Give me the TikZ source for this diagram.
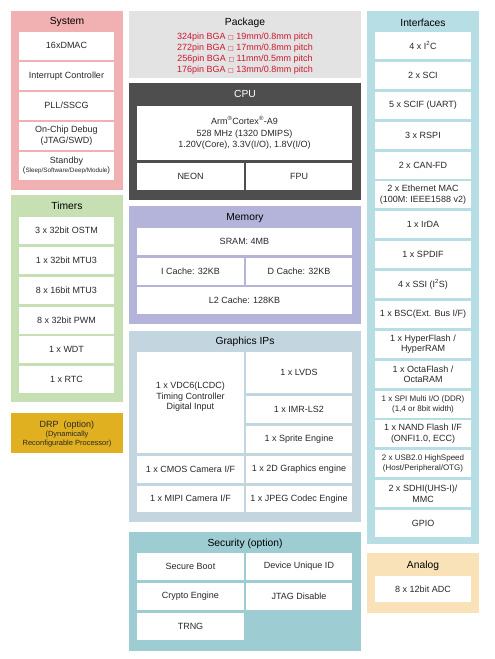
\documentclass[tikz,border=0pt]{standalone}
\usepackage{fontspec}
\setmainfont{Liberation Sans}
\newfontfamily\symfont{DejaVu Sans}
\definecolor{txt}{RGB}{40,40,40}
\definecolor{sysc}{RGB}{241,176,178}
\definecolor{timc}{RGB}{198,224,180}
\definecolor{drpc}{RGB}{224,176,32}
\definecolor{pkgc}{RGB}{227,227,227}
\definecolor{cpuc}{RGB}{78,78,78}
\definecolor{memc}{RGB}{180,180,218}
\definecolor{gfxc}{RGB}{195,213,223}
\definecolor{secc}{RGB}{157,204,211}
\definecolor{ifc}{RGB}{183,221,229}
\definecolor{anac}{RGB}{249,226,184}
\definecolor{redt}{RGB}{204,24,48}
\newcommand{\bodyf}{\fontsize{9}{10.5}\selectfont}
\newcommand{\titlef}{\fontsize{10.3}{12}\selectfont}
\newcommand{\mysmallf}{\fontsize{8}{9.5}\selectfont}
\newcommand{\sqbox}{{\symfont\fontsize{6}{6}\selectfont □}}
% style, name, x1, y1, x2, y2, text
\newcommand{\mkblk}[7]{%
  \node[#1, minimum width={(#5-#3)*1pt}, minimum height={(#6-#4)*1pt}] (#2) at ({(#3+#5)/2},{(#4+#6)/2}) {#7};}
\begin{document}
\begin{tikzpicture}[x=1pt,y=-1pt,
  panel/.style={fill=#1, draw=none, inner sep=0pt, outer sep=0pt},
  box/.style={fill=white, draw=none, inner sep=0pt, outer sep=0pt, align=center, text=txt, font=\bodyf},
  ttl/.style={inner sep=0pt, font=\titlef, text=black},
  lbl/.style={inner sep=0pt, align=center, text=txt, font=\bodyf}]
\useasboundingbox (0,0) rectangle (495,659);
\fill[white] (0,0) rectangle (495,659);

% ---------- panels ----------
\mkblk{panel=sysc}{system}{11}{11}{123}{190}{}
\mkblk{panel=timc}{timers}{11}{195}{123}{402}{}
\mkblk{panel=drpc}{drp}{11}{413}{123}{453}{}
\mkblk{panel=pkgc}{package}{129}{11}{361}{78}{}
\mkblk{panel=cpuc}{cpu}{129}{83}{361}{200}{}
\mkblk{panel=memc}{memory}{129}{206}{361}{324}{}
\mkblk{panel=gfxc}{graphics}{129}{331}{361}{522}{}
\mkblk{panel=secc}{security}{129}{532}{361}{651}{}
\mkblk{panel=ifc}{interfaces}{367}{11}{479}{544}{}
\mkblk{panel=anac}{analog}{367}{553}{479}{613}{}

% ---------- titles ----------
\node[ttl] (systemT) at (67,22) {System};
\node[ttl] (timersT) at (67,206) {Timers};
\node[ttl] (packageT) at (245,23) {Package};
\node[ttl, text=white] (cpuT) at (245,94) {CPU};
\node[ttl] (memoryT) at (245,218) {Memory};
\node[ttl] (graphicsT) at (245,342) {Graphics IPs};
\node[ttl] (securityT) at (245,544) {Security (option)};
\node[ttl] (interfacesT) at (423,23) {Interfaces};
\node[ttl] (analogT) at (423,566) {Analog};

% ---------- System ----------
\mkblk{box}{s1}{19}{32}{114}{59.5}{16xDMAC}
\mkblk{box}{s2}{19}{62}{114}{89.5}{Interrupt Controller}
\mkblk{box}{s3}{19}{92}{114}{119.5}{PLL/SSCG}
\mkblk{box}{s4}{19}{122}{114}{149.5}{On-Chip Debug\\(JTAG/SWD)}
\mkblk{box}{s5}{19}{152}{114}{179.5}{Standby\\[-1pt]{\mysmallf(}{\fontsize{6.3}{7}\selectfont Sleep/Software/Deep/Module}{\mysmallf)}}

% ---------- Timers ----------
\mkblk{box}{t1}{19}{217}{114}{244}{3 x 32bit OSTM}
\mkblk{box}{t2}{19}{247}{114}{274}{1 x 32bit MTU3}
\mkblk{box}{t3}{19}{276.5}{114}{303.5}{8 x 16bit MTU3}
\mkblk{box}{t4}{19}{306.5}{114}{333.5}{8 x 32bit PWM}
\mkblk{box}{t5}{19}{336}{114}{363}{1 x WDT}
\mkblk{box}{t6}{19}{366}{114}{393}{1 x RTC}

% ---------- DRP ----------
\node[lbl] (drp1) at (67,425) {DRP\ \ (option)};
\node[lbl, font=\fontsize{7.5}{9}\selectfont] (drp2) at (67,434.5) {(Dynamically};
\node[lbl, font=\fontsize{7.5}{9}\selectfont] (drp3) at (67,443.5) {Reconfigurable Processor)};

% ---------- Package ----------
\node[lbl, text=redt] (p1) at (245,37) {324pin BGA \sqbox\ 19mm/0.8mm pitch};
\node[lbl, text=redt] (p2) at (245,48) {272pin BGA \sqbox\ 17mm/0.8mm pitch};
\node[lbl, text=redt] (p3) at (245,59) {256pin BGA \sqbox\ 11mm/0.5mm pitch};
\node[lbl, text=redt] (p4) at (245,70) {176pin BGA \sqbox\ 13mm/0.8mm pitch};

% ---------- CPU ----------
\mkblk{box, font=\fontsize{9}{11.5}\selectfont}{core}{137}{106}{352}{160}{Arm\textsuperscript{\textregistered}Cortex\textsuperscript{\textregistered}-A9\\528 MHz (1320 DMIPS)\\1.20V(Core), 3.3V(I/O), 1.8V(I/O)}
\mkblk{box}{neon}{137}{163}{244}{190}{NEON}
\mkblk{box}{fpu}{246}{163}{352}{190}{FPU}

% ---------- Memory ----------
\mkblk{box}{sram}{137}{228}{352}{255}{SRAM: 4MB}
\mkblk{box}{icache}{137}{257.5}{244}{284.5}{I Cache: 32KB}
\mkblk{box}{dcache}{246}{257.5}{352}{284.5}{D Cache: 32KB}
\mkblk{box}{l2}{137}{287}{352}{314}{L2 Cache: 128KB}

% ---------- Graphics ----------
\mkblk{box}{vdc}{137}{352}{244}{453}{}
\node[lbl] (vdcT) at (190.5,397) {1 x VDC6(LCDC)\\Timing Controller\\Digital Input};
\mkblk{box}{lvds}{246}{352}{352}{393}{1 x LVDS}
\mkblk{box}{imr}{246}{396}{352}{423}{1 x IMR-LS2}
\mkblk{box}{sprite}{246}{426}{352}{453}{1 x Sprite Engine}
\mkblk{box}{cmos}{137}{456}{244}{482.5}{1 x CMOS Camera I/F}
\mkblk{box}{g2d}{246}{456}{352}{482.5}{1 x 2D Graphics engine}
\mkblk{box}{mipi}{137}{485.5}{244}{512}{1 x MIPI Camera I/F}
\mkblk{box}{jpeg}{246}{485.5}{352}{512}{1 x JPEG Codec Engine}

% ---------- Security ----------
\mkblk{box}{sboot}{137}{553}{244}{580}{Secure Boot}
\mkblk{box}{uid}{246}{553}{352}{580}{Device Unique ID}
\mkblk{box}{crypto}{137}{583}{244}{610}{Crypto Engine}
\mkblk{box}{jtag}{246}{583}{352}{610}{JTAG Disable}
\mkblk{box}{trng}{137}{613}{244}{640}{TRNG}

% ---------- Interfaces ----------
\mkblk{box}{i1}{375}{32}{471}{59}{4 x I\textsuperscript{2}C}
\mkblk{box}{i2}{375}{61.9}{471}{88.9}{2 x SCI}
\mkblk{box}{i3}{375}{91.75}{471}{118.75}{5 x SCIF (UART)}
\mkblk{box}{i4}{375}{121.6}{471}{148.6}{3 x RSPI}
\mkblk{box}{i5}{375}{151.5}{471}{178.5}{2 x CAN-FD}
\mkblk{box}{i6}{375}{181.4}{471}{208.4}{2 x Ethernet MAC\\(100M: IEEE1588 v2)}
\mkblk{box}{i7}{375}{211.25}{471}{238.25}{1 x IrDA}
\mkblk{box}{i8}{375}{241.1}{471}{268.1}{1 x SPDIF}
\mkblk{box}{i9}{375}{271}{471}{298}{4 x SSI (I\textsuperscript{2}S)}
\mkblk{box}{i10}{375}{300.9}{471}{327.9}{1 x BSC(Ext. Bus I/F)}
\mkblk{box}{i11}{375}{330.75}{471}{357.75}{1 x HyperFlash /\\HyperRAM}
\mkblk{box}{i12}{375}{360.6}{471}{387.6}{1 x OctaFlash /\\OctaRAM}
\mkblk{box, font=\fontsize{8}{10}\selectfont}{i13}{375}{390.5}{471}{417.5}{1 x SPI Multi I/O (DDR)\\(1,4 or 8bit width)}
\mkblk{box}{i14}{375}{420.4}{471}{447.4}{1 x NAND Flash I/F\\(ONFI1.0, ECC)}
\mkblk{box, font=\fontsize{8}{10}\selectfont}{i15}{375}{450.25}{471}{477.25}{2 x USB2.0 HighSpeed\\(Host/Peripheral/OTG)}
\mkblk{box}{i16}{375}{480.1}{471}{507.1}{2 x SDHI(UHS-I)/\\MMC}
\mkblk{box}{i17}{375}{510}{471}{537}{GPIO}

% ---------- Analog ----------
\mkblk{box}{adc}{375}{576}{471}{602}{8 x 12bit ADC}
\end{tikzpicture}
\end{document}
